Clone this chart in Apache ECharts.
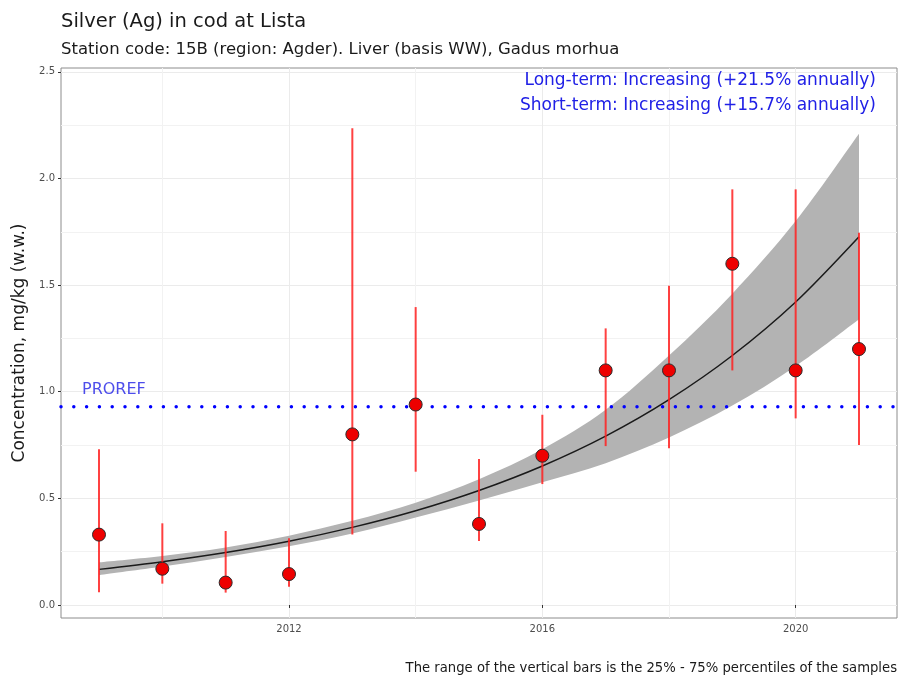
<!DOCTYPE html>
<html>
<head>
<meta charset="utf-8">
<script src="https://cdn.jsdelivr.net/npm/echarts@6/dist/echarts.min.js"></script>
<style>
  html, body { margin: 0; padding: 0; background: #ffffff; }
  #chart { width: 899px; height: 678px; }
</style>
</head>
<body>
<div id="chart"></div>
<script>
// Yearly medians and 25%-75% percentile ranges (mg/kg w.w.)
const years  = [2009, 2010, 2011, 2012, 2013, 2014, 2015, 2016, 2017, 2018, 2019, 2020, 2021];
const median = [0.33, 0.17, 0.105, 0.145, 0.80, 0.94, 0.38, 0.70, 1.10, 1.10, 1.60, 1.10, 1.20];
const q25    = [0.06, 0.10, 0.058, 0.086, 0.33, 0.625, 0.30, 0.567, 0.745, 0.735, 1.10, 0.875, 0.75];
const q75    = [0.73, 0.383, 0.347, 0.313, 2.236, 1.397, 0.684, 0.892, 1.297, 1.497, 1.949, 1.949, 1.746];

// Fitted trend and its confidence band
const trendFit  = [0.167, 0.203, 0.246, 0.299, 0.364, 0.442, 0.537, 0.652, 0.792, 0.963, 1.170, 1.421, 1.727];
const trendLow  = [0.140, 0.180, 0.225, 0.275, 0.335, 0.410, 0.490, 0.575, 0.665, 0.785, 0.935, 1.120, 1.340];
const trendHigh = [0.200, 0.230, 0.270, 0.325, 0.395, 0.480, 0.590, 0.730, 0.915, 1.170, 1.460, 1.800, 2.210];

const proref = 0.93;

// Axis ticks and grid positions
const xTicks = [2012, 2016, 2020];
const xMinor = [2010, 2014, 2018];
const yTicks = [0, 0.5, 1.0, 1.5, 2.0, 2.5];
const yMinor = [0.25, 0.75, 1.25, 1.75, 2.25];

const xRange = [2008.4, 2021.6];
const yRange = [-0.061, 2.518];

const FONT = 'DejaVu Sans';
const chart = echarts.init(document.getElementById('chart'), null, { renderer: 'canvas' });

// Smooth path segments (Catmull-Rom converted to cubic Bezier) through pixel points
function curveSegments(pts) {
  let d = '';
  for (let i = 0; i < pts.length - 1; i++) {
    const p0 = pts[Math.max(i - 1, 0)], p1 = pts[i], p2 = pts[i + 1], p3 = pts[Math.min(i + 2, pts.length - 1)];
    const c1 = [p1[0] + (p2[0] - p0[0]) / 6, p1[1] + (p2[1] - p0[1]) / 6];
    const c2 = [p2[0] - (p3[0] - p1[0]) / 6, p2[1] - (p3[1] - p1[1]) / 6];
    d += ' C' + c1[0] + ' ' + c1[1] + ' ' + c2[0] + ' ' + c2[1] + ' ' + p2[0] + ' ' + p2[1];
  }
  return d;
}

// Confidence band: upper edge left to right, lower edge back, closed
function renderBand(params, api) {
  if (params.dataIndex !== 0) return null;
  const up = years.map((y, i) => api.coord([y, trendHigh[i]]));
  const lo = years.map((y, i) => api.coord([y, trendLow[i]])).reverse();
  const d = 'M' + up[0][0] + ' ' + up[0][1] + curveSegments(up) +
            ' L' + lo[0][0] + ' ' + lo[0][1] + curveSegments(lo) + ' Z';
  return { type: 'path', shape: { pathData: d }, style: { fill: '#b3b3b3', stroke: null } };
}

chart.setOption({
  animation: false,
  backgroundColor: '#ffffff',
  textStyle: { fontFamily: FONT },
  title: [
    { text: 'Silver (Ag) in cod at Lista', left: 61, top: 12, padding: 0,
      textStyle: { fontFamily: FONT, fontSize: 19.5, fontWeight: 'normal', color: '#1a1a1a' } },
    { text: 'Station code: 15B (region: Agder). Liver (basis WW), Gadus morhua', left: 61, top: 41, padding: 0,
      textStyle: { fontFamily: FONT, fontSize: 16.5, fontWeight: 'normal', color: '#1a1a1a' } }
  ],
  graphic: [
    { type: 'text', right: 23, top: 72, z: 100, style: { text: 'Long-term: Increasing (+21.5% annually)',
      font: '17px "DejaVu Sans"', fill: '#2020e6' } },
    { type: 'text', right: 23, top: 97, z: 100, style: { text: 'Short-term: Increasing (+15.7% annually)',
      font: '17px "DejaVu Sans"', fill: '#2020e6' } },
    { type: 'text', right: 2, top: 662, z: 100, style: { text: 'The range of the vertical bars is the 25% - 75% percentiles of the samples',
      font: '13.2px "DejaVu Sans"', fill: '#1a1a1a' } }
  ],
  grid: { left: 61, right: 2, top: 68, bottom: 60, show: true, borderColor: '#8c8c8c', borderWidth: 1,
    backgroundColor: '#ffffff', outerBoundsMode: 'none', containLabel: false },
  xAxis: [
    { type: 'value', min: xRange[0], max: xRange[1],
      axisLine: { show: false },
      axisTick: { show: true, length: 3, customValues: xTicks, lineStyle: { color: '#333' } },
      axisLabel: { customValues: xTicks, formatter: v => String(Math.round(v)), color: '#4d4d4d', fontSize: 10, margin: 6, fontFamily: FONT },
      splitLine: { show: true, lineStyle: { color: '#ebebeb', width: 1 } } },
    { type: 'value', min: xRange[0], max: xRange[1], position: 'bottom',
      axisLine: { show: false },
      axisTick: { show: false, customValues: xMinor },
      axisLabel: { show: false, customValues: xMinor },
      splitLine: { show: true, lineStyle: { color: '#f2f2f2', width: 1 } } }
  ],
  yAxis: [
    { type: 'value', min: yRange[0], max: yRange[1],
      name: 'Concentration, mg/kg (w.w.)', nameLocation: 'middle', nameGap: 33,
      nameTextStyle: { fontFamily: FONT, fontSize: 17, color: '#1a1a1a' },
      axisLine: { show: false },
      axisTick: { show: true, length: 3, customValues: yTicks, lineStyle: { color: '#333' } },
      axisLabel: { customValues: yTicks, formatter: v => v.toFixed(1), color: '#4d4d4d', fontSize: 10, margin: 6, fontFamily: FONT },
      splitLine: { show: true, lineStyle: { color: '#ebebeb', width: 1 } } },
    { type: 'value', min: yRange[0], max: yRange[1], position: 'left',
      axisLine: { show: false },
      axisTick: { show: false, customValues: yMinor },
      axisLabel: { show: false, customValues: yMinor },
      splitLine: { show: true, lineStyle: { color: '#f2f2f2', width: 1 } } }
  ],
  series: [
    { name: 'band', type: 'custom', z: 2, silent: true,
      data: years.map((y, i) => [y, trendLow[i], trendHigh[i]]),
      renderItem: renderBand },
    { name: 'trend', type: 'line', data: years.map((y, i) => [y, trendFit[i]]), smooth: 0.3,
      symbol: 'none', lineStyle: { color: '#1a1a1a', width: 1.5 }, z: 3 },
    { name: 'PROREF', type: 'line', data: [[xRange[0], proref], [xRange[1], proref]],
      symbol: 'none', z: 4,
      lineStyle: { color: '#0000ff', width: 3.5, type: [0, 12.8], cap: 'round' } },
    { name: 'range', type: 'custom', z: 5,
      data: years.map((y, i) => [y, q25[i], q75[i]]),
      renderItem: function (params, api) {
        const lo = api.coord([api.value(0), api.value(1)]);
        const hi = api.coord([api.value(0), api.value(2)]);
        return { type: 'line', shape: { x1: lo[0], y1: lo[1], x2: hi[0], y2: hi[1] },
          style: { stroke: '#ff2020', lineWidth: 2, opacity: 0.85 } };
      } },
    { name: 'median', type: 'scatter', z: 6,
      data: years.map((y, i) => [y, median[i]]),
      symbol: 'circle', symbolSize: 13,
      itemStyle: { color: '#ee0000', borderColor: '#2b2b2b', borderWidth: 1, opacity: 1 } },
    { name: 'PROREF label', type: 'scatter', z: 6, silent: true,
      data: [[xRange[0], proref]], symbolSize: 0,
      label: { show: true, formatter: 'PROREF', position: 'right', offset: [16, -17],
        color: '#2020e6', fontSize: 16, fontFamily: FONT } }
  ]
});
</script>
</body>
</html>
